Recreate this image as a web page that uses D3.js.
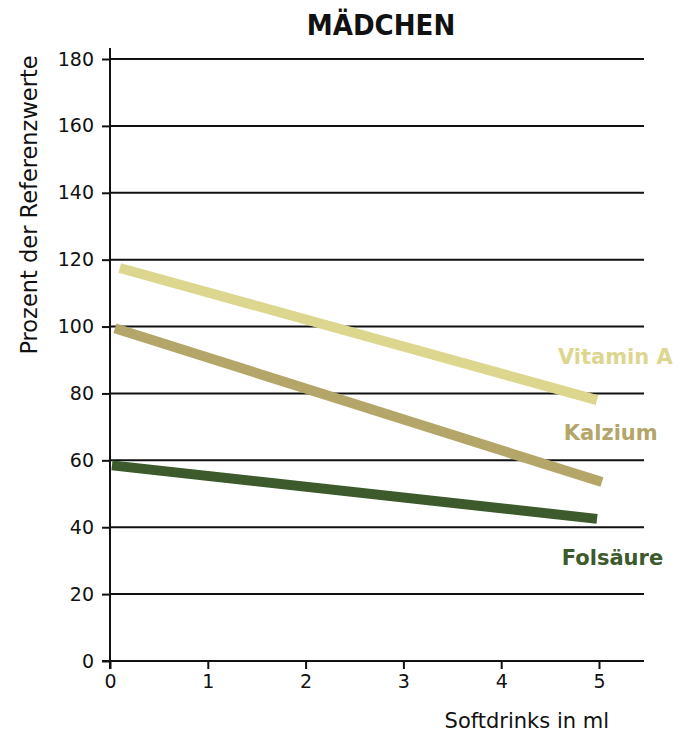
<!DOCTYPE html>
<html><head><meta charset="utf-8">
<script src="https://cdn.jsdelivr.net/npm/d3@7"></script>
<style>body{margin:0;background:#fff}svg{display:block}</style>
</head><body>
<div id="chart"></div>
<script>
// Softdrink intake vs. share of reference intake, girls
const xTicks = [0, 1, 2, 3, 4, 5];
const yTicks = [0, 20, 40, 60, 80, 100, 120, 140, 160, 180];
const seriesNames = ["Vitamin A", "Kalzium", "Folsäure"];
const seriesColors = ["#ddd68f", "#b4a568", "#3c5a2c"];
const vitaminA = [[0.1, 117.5], [4.98, 78]];
const kalzium = [[0.05, 99.5], [5.03, 53.5]];
const folsaeure = [[0.02, 58.5], [4.98, 42.5]];
const labelPos = [[4.58, 88.8], [4.64, 66.1], [4.62, 28.7]];

const W = 679, H = 736;
const svg = d3.select("#chart").append("svg").attr("width", W).attr("height", H);
const x = d3.scaleLinear().domain([0, 5]).range([110, 599]);
const y = d3.scaleLinear().domain([0, 180]).range([661, 59]);
const font = "'DejaVu Sans', sans-serif";

// gridlines
svg.append("g").selectAll("line").data(yTicks.slice(1)).join("line")
  .attr("x1", x(0)).attr("x2", 644)
  .attr("y1", d => y(d)).attr("y2", d => y(d))
  .attr("stroke", "#111").attr("stroke-width", 2);

// y axis
const yAxis = svg.append("g").attr("transform", `translate(${x(0)},0)`)
  .call(d3.axisLeft(y).tickValues(yTicks).tickFormat(d3.format("d")).tickSize(8).tickPadding(8));
yAxis.select(".domain").remove();
svg.append("line").attr("x1", x(0)).attr("x2", x(0)).attr("y1", 48).attr("y2", 669)
  .attr("stroke", "#111").attr("stroke-width", 2);

// x axis
const xAxis = svg.append("g").attr("transform", `translate(0,${y(0)})`)
  .call(d3.axisBottom(x).tickValues(xTicks).tickFormat(d3.format("d")).tickSize(8).tickPadding(6));
xAxis.select(".domain").remove();
svg.append("line").attr("x1", 102).attr("x2", 644).attr("y1", y(0)).attr("y2", y(0))
  .attr("stroke", "#111").attr("stroke-width", 2);

svg.selectAll(".tick line").attr("stroke", "#111").attr("stroke-width", 2);
svg.selectAll(".tick text").attr("font-family", font).attr("font-size", 19).attr("fill", "#111");

// series lines
const line = d3.line().x(d => x(d[0])).y(d => y(d[1]));
[vitaminA, kalzium, folsaeure].forEach((s, i) => {
  svg.append("path").datum(s).attr("d", line)
    .attr("fill", "none").attr("stroke", seriesColors[i]).attr("stroke-width", 10);
});

// series labels
svg.append("g").selectAll("text").data(seriesNames).join("text")
  .attr("x", (d, i) => x(labelPos[i][0]))
  .attr("y", (d, i) => y(labelPos[i][1]))
  .attr("font-family", font).attr("font-weight", 700).attr("font-size", 21)
  .attr("fill", (d, i) => seriesColors[i])
  .text(d => d);

// title
svg.append("text").attr("x", 381).attr("y", 35).attr("text-anchor", "middle")
  .attr("font-family", "'DejaVu Sans Condensed', 'DejaVu Sans', sans-serif")
  .attr("font-weight", 700).attr("font-size", 29).attr("fill", "#111").text("MÄDCHEN");

// axis titles
svg.append("text").attr("x", 609).attr("y", 728).attr("text-anchor", "end")
  .attr("font-family", font).attr("font-size", 21).attr("fill", "#111").text("Softdrinks in ml");
svg.append("text").attr("transform", "translate(37,205) rotate(-90)").attr("text-anchor", "middle")
  .attr("font-family", font).attr("font-size", 22.5).attr("fill", "#111").text("Prozent der Referenzwerte");
</script>
</body></html>
